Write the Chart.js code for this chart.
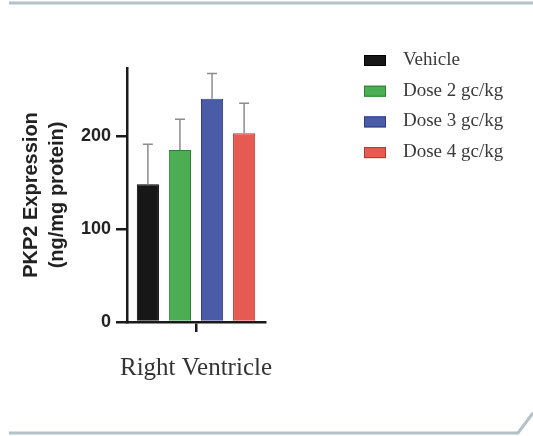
<!DOCTYPE html>
<html>
<head>
<meta charset="utf-8">
<script src="https://cdn.jsdelivr.net/npm/chart.js@4.4.1/dist/chart.umd.min.js"></script>
<style>
  body { margin: 0; background: #fff; }
  #wrap { width: 533px; height: 436px; position: relative; }
</style>
</head>
<body>
<div id="wrap"><canvas id="myChart" width="533" height="436"></canvas></div>
<script>
var categories = ["Right Ventricle"];
var groups = ["Vehicle", "Dose 2 gc/kg", "Dose 3 gc/kg", "Dose 4 gc/kg"];
var means = [148, 185, 240, 203];
var sems = [43, 33, 27, 32];
var yTicks = [0, 100, 200];
var yMax = 273;

var fills = ["#171717", "#4cae52", "#4a5ba8", "#e65a52"];
var borders = ["#000000", "#2f7f35", "#2e3d80", "#b03a34"];

// one dataset per group so each bar gets its own colour
var datasets = [];
for (var i = 0; i < groups.length; i++) {
  datasets.push({
    label: groups[i],
    data: [means[i]],
    err: [sems[i]],
    backgroundColor: fills[i],
    borderColor: borders[i],
    borderWidth: 1,
    barPercentage: 0.69,
    categoryPercentage: 0.93,
  });
}

var errorBars = {
  id: "errorBars",
  afterDatasetsDraw: function (chart) {
    var ctx = chart.ctx;
    var y = chart.scales.y;
    ctx.save();
    ctx.strokeStyle = "#8c8c8c";
    ctx.lineWidth = 1.5;
    chart.data.datasets.forEach(function (ds, i) {
      var meta = chart.getDatasetMeta(i);
      meta.data.forEach(function (bar, j) {
        var top = y.getPixelForValue(ds.data[j] + ds.err[j]);
        ctx.beginPath();
        ctx.moveTo(bar.x, bar.y);
        ctx.lineTo(bar.x, top);
        ctx.moveTo(bar.x - 5, top);
        ctx.lineTo(bar.x + 5, top);
        ctx.stroke();
      });
    });
    ctx.restore();
  },
};

var sideLegend = {
  id: "sideLegend",
  afterDraw: function (chart) {
    var ctx = chart.ctx;
    ctx.save();
    ctx.font = "19px 'Liberation Serif', 'Times New Roman', serif";
    ctx.textBaseline = "middle";
    chart.data.datasets.forEach(function (ds, i) {
      var cy = 60 + i * 30.7;
      ctx.fillStyle = ds.backgroundColor;
      ctx.fillRect(364, cy - 5, 22, 11);
      ctx.strokeStyle = ds.borderColor;
      ctx.lineWidth = 1;
      ctx.strokeRect(364.5, cy - 4.5, 21, 10);
      ctx.fillStyle = "#3a3a3a";
      ctx.fillText(ds.label, 403, cy);
    });
    ctx.restore();
  },
};

// the slide frame around the figure
var frame = {
  id: "frame",
  beforeDraw: function (chart) {
    var ctx = chart.ctx;
    ctx.save();
    ctx.fillStyle = "#fff";
    ctx.fillRect(0, 0, chart.width, chart.height);
    ctx.strokeStyle = "#b3c1c8";
    ctx.lineWidth = 3;
    ctx.beginPath();
    ctx.moveTo(9, 3);
    ctx.lineTo(533, 3);
    ctx.stroke();
    ctx.beginPath();
    ctx.moveTo(9, 433);
    ctx.lineTo(518, 433);
    ctx.lineTo(533, 413);
    ctx.stroke();
    ctx.restore();
  },
};

var ctx = document.getElementById("myChart").getContext("2d");
var myChart = new Chart(ctx, {
  type: "bar",
  data: {
    labels: categories,
    datasets: datasets,
  },
  plugins: [frame, errorBars, sideLegend],
  options: {
    responsive: false,
    animation: false,
    layout: { padding: { top: 68, right: 268, left: 0, bottom: 0 } },
    plugins: {
      legend: { display: false },
      tooltip: { enabled: false },
    },
    scales: {
      x: {
        grid: {
          display: true,
          drawOnChartArea: false,
          offset: false,
          tickLength: 10,
          lineWidth: 2.5,
          color: "#1a1a1a",
        },
        border: { display: true, width: 2.5, color: "#1a1a1a" },
        ticks: {
          padding: 21,
          color: "#333",
          font: { family: "'Liberation Serif', 'Times New Roman', serif", size: 25 },
        },
        afterFit: function (scale) {
          scale.height = 114;
        },
      },
      y: {
        min: 0,
        max: yMax,
        afterBuildTicks: function (scale) {
          scale.ticks = yTicks.map(function (v) {
            return { value: v };
          });
        },
        grid: {
          display: true,
          drawOnChartArea: false,
          tickLength: 11,
          lineWidth: 2.5,
          color: "#1a1a1a",
        },
        border: { display: true, width: 2.5, color: "#1a1a1a" },
        ticks: {
          padding: 5,
          color: "#222",
          font: { family: "'Liberation Sans', Arial, sans-serif", size: 18, weight: "bold" },
        },
        title: {
          display: true,
          text: ["PKP2 Expression", "(ng/mg protein)"],
          color: "#222",
          padding: { top: 18, bottom: 0 },
          font: { family: "'Liberation Sans', Arial, sans-serif", size: 20, weight: "bold", lineHeight: 1.3 },
        },
        afterFit: function (scale) {
          scale.width = 127;
        },
      },
    },
  },
});
</script>
</body>
</html>
